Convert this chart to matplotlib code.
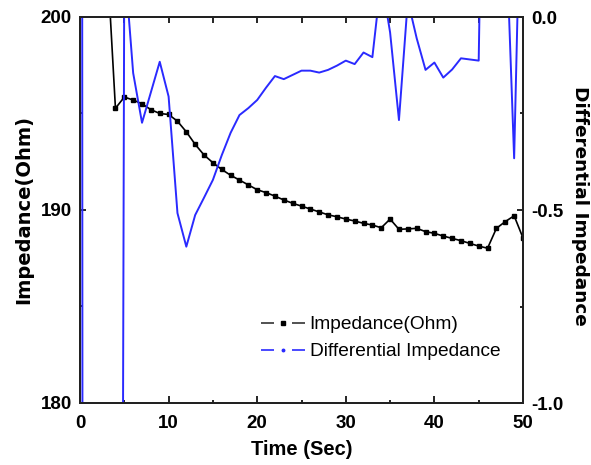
import matplotlib
matplotlib.use('Agg')
import matplotlib.pyplot as plt
from matplotlib.lines import Line2D
from matplotlib.ticker import MultipleLocator, FixedLocator, FixedFormatter

# ---- data ----
time_s = list(range(0, 51))
impedance = [215.0, 212.0, 208.0, 203.5, 195.27, 195.85, 195.7, 195.5, 195.2, 195.0,
             194.95, 194.6, 194.05, 193.4, 192.85, 192.45, 192.1, 191.8, 191.55, 191.3,
             191.05, 190.9, 190.72, 190.52, 190.35, 190.2, 190.05, 189.9, 189.75, 189.65,
             189.53, 189.43, 189.31, 189.22, 189.08, 189.53, 189.0, 189.02, 189.05, 188.88,
             188.79, 188.65, 188.53, 188.41, 188.27, 188.13, 188.02, 189.05, 189.4, 189.7,
             188.55]
diff_impedance = [10.0, -30.0, -30.0, -30.0, -8.0, 0.15, -0.145, -0.274, -0.195, -0.116,
                  -0.206, -0.508, -0.595, -0.513, -0.468, -0.422, -0.358, -0.30, -0.254, -0.236,
                  -0.215, -0.183, -0.153, -0.161, -0.150, -0.139, -0.139, -0.144, -0.137, -0.126,
                  -0.113, -0.122, -0.092, -0.104, 0.10, -0.04, -0.267, 0.043, -0.055, -0.137,
                  -0.118, -0.157, -0.136, -0.107, -0.110, -0.113, 1.3, 0.4, 0.276, -0.366,
                  0.623]
x_ticks = [0, 10, 20, 30, 40, 50]
left_ticks = [180, 190, 200]
right_ticks = [-1.0, -0.5, 0.0]
right_tick_labels = ['-1.0', '-0.5', '0.0']
series_labels = ['Impedance(Ohm)', 'Differential Impedance']

plt.rcParams['font.family'] = ['Liberation Sans', 'DejaVu Sans']
plt.rcParams['font.weight'] = 'bold'
plt.rcParams['axes.unicode_minus'] = False

W, H = 591, 465
fig = plt.figure(figsize=(W / 100, H / 100), dpi=100)
ax = fig.add_axes([80 / W, 62 / H, 443 / W, 386 / H])

blue = '#2a2aff'
ax.plot(time_s, impedance, color='black', lw=1.2, marker='s', ms=2.6, zorder=3)
ax.set_xlim(0, 50)
ax.set_ylim(180, 200)

ax2 = ax.twinx()
ax2.plot(time_s, diff_impedance, color=blue, lw=1.4)
ax2.set_ylim(-1.0, 0.0)

for a in (ax, ax2):
    for s in a.spines.values():
        s.set_linewidth(1.4)
        s.set_color('#222222')

# x ticks
ax.xaxis.set_major_locator(FixedLocator(x_ticks))
ax.xaxis.set_minor_locator(MultipleLocator(5))
ax.tick_params(axis='x', which='major', direction='in', length=5, width=1.2,
               labelsize=13.5, pad=8.5)
ax.tick_params(axis='x', which='minor', direction='in', length=2.5, width=1.2)
top = ax.secondary_xaxis('top')
top.set_xticks(list(range(0, 51, 5)))
top.tick_params(direction='in', length=4, width=1.2, labeltop=False)
top.spines['top'].set_visible(False)

# left y ticks
ax.yaxis.set_major_locator(FixedLocator(left_ticks))
ax.yaxis.set_minor_locator(MultipleLocator(5))
ax.tick_params(axis='y', which='major', direction='in', length=4, width=1.2,
               labelsize=13.5, pad=6)
ax.tick_params(axis='y', which='minor', direction='in', length=2, width=1.2)

# right y ticks
ax2.yaxis.set_major_locator(FixedLocator(right_ticks))
ax2.yaxis.set_major_formatter(FixedFormatter(right_tick_labels))
ax2.yaxis.set_minor_locator(MultipleLocator(0.25))
ax2.tick_params(axis='y', which='major', direction='in', length=4, width=1.2,
                labelsize=13.5, pad=6)
ax2.tick_params(axis='y', which='minor', direction='in', length=2, width=1.2)

ax.set_xlabel('Time (Sec)', fontsize=14.5, fontweight='bold', labelpad=6)
ax.set_ylabel('Impedance(Ohm)', fontsize=14, fontweight='bold',
              family=['DejaVu Sans'])
ax.yaxis.set_label_coords(-0.106, 0.5)
ax2.set_ylabel('Differential Impedance', fontsize=13.3, fontweight='bold',
               family=['DejaVu Sans'], rotation=270, va='bottom')
ax2.yaxis.set_label_coords(1.108, 0.51)

handles = [
    Line2D([0], [0], color='#333333', lw=1.2, linestyle=(0, (7.8, 10.8)),
           marker='s', ms=2.4, mfc='black', mec='black'),
    Line2D([0], [0], color=blue, lw=1.2, linestyle=(0, (7.8, 10.8)),
           marker='o', ms=1.8, mfc=blue, mec=blue),
]
ax2.legend(handles, series_labels, loc='center left', bbox_to_anchor=(0.408, 0.168),
           frameon=False, borderpad=0, borderaxespad=0, handlelength=2.3,
           handletextpad=0.25, labelspacing=0.5, numpoints=1,
           prop={'family': 'Liberation Sans', 'size': 13.8, 'weight': 'normal'})

fig.savefig('out.png', dpi=100)
